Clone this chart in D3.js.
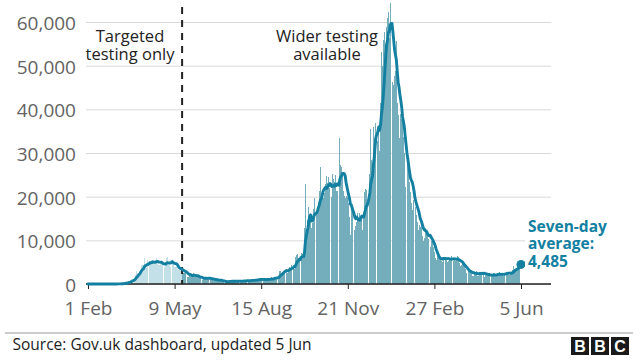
<!DOCTYPE html>
<html><head><meta charset="utf-8">
<script src="https://cdnjs.cloudflare.com/ajax/libs/d3/7.8.5/d3.min.js"></script>
<style>
html,body{margin:0;padding:0;background:#fff;}
svg{display:block;font-family:"Open Sans",sans-serif;}
</style></head><body>
<svg id="chart" width="640" height="360"></svg>
<script>
// ---- data (UK daily confirmed cases, by reported date) ----
const startDate = "2020-02-01";
const dailyCases = [
  2,0,0,0,0,0,1,
  0,0,4,0,0,1,0,
  0,0,0,0,0,0,0,
  0,0,4,0,0,2,3,
  3,12,4,11,34,30,48,
  43,67,48,52,83,134,208,
  342,251,152,407,676,643,714,
  1035,665,967,1427,1452,2129,2885,
  2546,2433,2619,3009,4324,4244,4450,
  3735,5903,3802,3634,5491,4344,5706,
  5234,5288,4342,5252,4603,4617,5599,
  5525,5850,4676,4301,4451,4583,5386,
  4913,4463,4309,3996,4076,6032,6201,
  4806,4339,3985,4406,6111,5614,4649,
  3896,3923,3877,3403,3242,3446,3560,
  3450,3142,2684,2412,2472,2615,2959,
  2409,1625,1558,2004,2013,1887,2095,
  2445,1936,1570,1613,1871,1805,1650,
  1557,1326,1205,1387,1003,1266,1541,
  1425,1514,1056,1279,1115,1218,1346,
  1295,958,921,874,653,1118,1006,
  890,901,815,689,829,576,544,
  624,516,352,581,630,612,820,
  650,530,598,538,642,687,827,
  726,580,445,560,769,762,768,
  767,743,685,581,763,846,880,
  744,742,938,670,892,950,871,
  758,1062,816,1148,1009,1441,1012,
  1040,713,1089,1182,812,1033,1288,
  1182,853,1041,1184,1048,1522,1276,
  1108,1715,1406,1295,1508,1735,1813,
  2988,2948,2460,2659,2919,2919,3539,
  3497,3330,2621,3105,3991,3395,4322,
  4422,3899,4368,3497,6178,6634,6874,
  6042,5693,4044,7143,7108,6914,6968,
  12872,22961,12594,14542,14162,17540,13864,
  15166,12872,13972,17234,19724,18980,15650,
  16171,16982,18804,21331,26688,20530,21242,
  23012,19790,20890,22885,24701,23065,24405,
  21915,23254,18950,20018,25177,24141,23287,
  24957,21350,21350,20412,22950,33470,27301,
  26860,24962,21363,20051,19609,22915,20252,
  19875,18662,15450,11299,18213,17555,16022,
  15871,12330,13200,14100,16170,14879,16298,
  15539,17272,14718,12282,16578,20964,21672,
  21502,18447,20263,18450,25161,35383,28507,
  27052,35928,33364,36804,39237,39036,32725,
  34693,30501,41385,53135,50023,55892,53285,
  57725,54990,58784,60916,62322,56271,64400,
  59937,54940,46169,45533,47525,48682,55761,
  41346,38598,37535,33355,38905,37892,40261,
  33552,30004,22195,20089,25308,28680,29079,
  23275,21088,18607,16840,19202,20634,18262,
  17640,15845,14104,12364,13494,13013,15144,
  13308,10972,9765,10625,12718,12057,12027,
  10406,9834,10641,8489,9938,9985,8523,
  7434,6035,5455,4712,6391,6573,6040,
  5800,5200,5100,6000,6200,6400,6100,
  5700,5100,5300,5500,5900,6400,6300,
  5600,5300,5400,5200,5600,6400,6200,
  4700,4500,4200,4400,4600,4400,3900,
  3423,2600,2762,2600,3030,2963,3150,
  2580,1880,1880,2472,2491,2672,3039,
  1882,1730,2524,2396,2729,2857,2605,
  2315,1712,2064,2064,2166,2381,2445,
  1671,1649,1770,1946,2613,2490,2047,
  1911,1979,2357,2284,2657,2193,2027,
  2027,1926,2412,2696,2874,2829,2439,
  2235,1979,2493,2439,3180,3542,4182,
  3398,3240,3383,3165,4330,5274,6238,
  5765
];
const testingChangeDate = "2020-05-18";
const xTickDates = ["2020-02-01","2020-05-09","2020-08-15","2020-11-21","2021-02-27","2021-06-05"];
const xTickLabels = ["1 Feb","9 May","15 Aug","21 Nov","27 Feb","5 Jun"];
const yTicks = [0,10000,20000,30000,40000,50000,60000];
const phaseLabelTargeted = ["Targeted","testing only"];
const phaseLabelWider = ["Wider testing","available"];
const averageLabel = ["Seven-day","average:"];
const sourceText = "Source: Gov.uk dashboard, updated 5 Jun";

// ---- build ----
const parse = d3.utcParse("%Y-%m-%d");
const t0 = parse(startDate);
const data = dailyCases.map((v,i)=>({date:d3.utcDay.offset(t0,i), value:v}));
const avg = data.map((d,i)=>({date:d.date, value:d3.sum(data.slice(Math.max(0,i-6),i+1),e=>e.value)/7}));
const last = avg[avg.length-1];

const svg = d3.select("#chart");
const x = d3.scaleUtc().domain([t0, data[data.length-1].date]).range([88,521]);
const y = d3.scaleLinear().domain([0,60000]).range([284,22]);
const step = x(data[1].date) - x(data[0].date);
const changeDate = parse(testingChangeDate);

const TEAL = "#1380a1";

// grid + y labels
const yAxis = svg.append("g").attr("transform","translate(86,0)")
  .call(d3.axisLeft(y).tickValues(yTicks).tickFormat(d3.format(",")).tickSizeInner(-(551-86)).tickSizeOuter(0).tickPadding(10));
yAxis.select(".domain").remove();
yAxis.selectAll("line").attr("stroke","#d9d9d9").attr("stroke-width",1);
yAxis.selectAll("text").attr("font-size",19).attr("fill","#636363").attr("dy","0.4em").attr("font-family","'Open Sans',sans-serif");

// bars
svg.append("g").attr("shape-rendering","crispEdges").selectAll("rect").data(data).join("rect")
  .attr("x", d=>x(d.date)-step/2)
  .attr("width", step*0.92)
  .attr("y", d=>y(d.value))
  .attr("height", d=>y(0)-y(d.value))
  .attr("fill", d=> d.date < changeDate ? "#c3e0e8" : "#74adbb");

// baseline
svg.append("line").attr("x1",86).attr("x2",551).attr("y1",y(0)).attr("y2",y(0))
  .attr("stroke","#222").attr("stroke-width",1.5);

// x axis
const xAxis = svg.append("g").attr("transform",`translate(0,${y(0)})`)
  .call(d3.axisBottom(x).tickValues(xTickDates.map(parse)).tickFormat((d,i)=>xTickLabels[i]).tickSizeInner(5).tickSizeOuter(0).tickPadding(13));
xAxis.select(".domain").remove();
xAxis.selectAll("line").attr("stroke","#222");
xAxis.selectAll("text").attr("font-size",19).attr("fill","#636363").attr("font-family","'Open Sans',sans-serif");

// dashed divider
const xc = x(changeDate) - step/2;
svg.append("line").attr("x1",xc).attr("x2",xc).attr("y1",7).attr("y2",y(0))
  .attr("stroke","#222").attr("stroke-width",2).attr("stroke-dasharray","7,6");

// average line
svg.append("path").datum(avg)
  .attr("d", d3.line().x(d=>x(d.date)).y(d=>y(d.value)))
  .attr("fill","none").attr("stroke",TEAL).attr("stroke-width",2.9).attr("stroke-linejoin","round").attr("stroke-linecap","round");
svg.append("circle").attr("cx",x(last.date)).attr("cy",y(last.value)).attr("r",4.5).attr("fill",TEAL);

// label background + label
svg.append("rect").attr("x",525).attr("y",214).attr("width",115).attr("height",58).attr("fill","#fff");
averageLabel.concat([d3.format(",")(Math.round(last.value))]).forEach((s,i)=>{
  svg.append("text").attr("x",528).attr("y",231.7+i*17.5)
    .attr("font-size",15.5).attr("font-weight",700).attr("fill",TEAL).text(s);
});

// phase annotations
function ann(lines, cx){
  lines.forEach((s,i)=>svg.append("text").attr("text-anchor","middle").attr("font-size",16.5).attr("fill","#222")
    .attr("x",cx).attr("y",41.7+i*18.3).text(s));
}
ann(phaseLabelTargeted,130);
ann(phaseLabelWider,327);

// footer
svg.append("line").attr("x1",5).attr("x2",633).attr("y1",333).attr("y2",333).attr("stroke","#999").attr("stroke-width",1);
svg.append("text").attr("x",12.5).attr("y",350).attr("font-size",15.5).attr("fill","#222").text(sourceText);
const logo = svg.append("g");
["B","B","C"].forEach((c,i)=>{
  const bx = 571 + i*20;
  logo.append("rect").attr("x",bx).attr("y",337).attr("width",18).attr("height",18).attr("fill","#1a1a1a");
  logo.append("text").attr("x",bx+9).attr("y",352).attr("text-anchor","middle").attr("font-size",16).attr("font-weight",700)
    .attr("fill","#fff").attr("font-family","Arial, 'Liberation Sans', sans-serif").text(c);
});
</script>
</body></html>
